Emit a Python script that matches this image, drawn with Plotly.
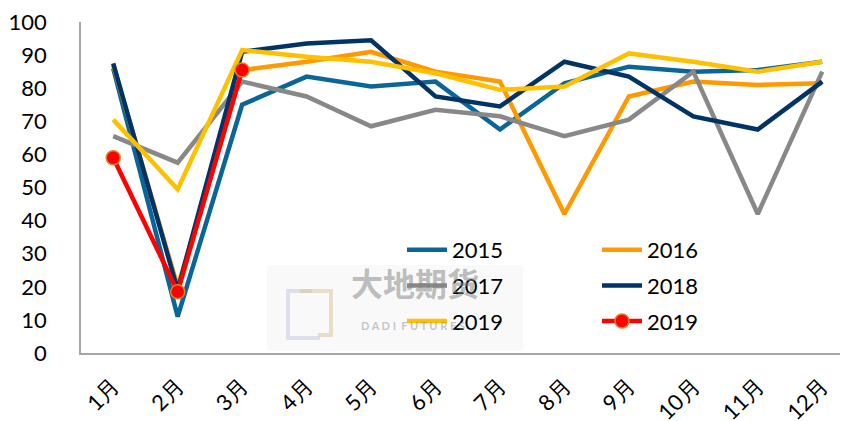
import plotly.graph_objects as go

months = ["1月", "2月", "3月", "4月", "5月", "6月", "7月", "8月", "9月", "10月", "11月", "12月"]

y2015 = [86, 11, 75, 83.5, 80.5, 82, 67.5, 81.5, 86.5, 85, 85.5, 88]
y2016 = [87, 20, 85.5, 88, 91, 85, 82, 42, 77.5, 82, 81, 81.5]
y2017 = [65.5, 57.5, 82, 77.5, 68.5, 73.5, 71.5, 65.5, 70.5, 85, 42, 85]
y2018 = [87.5, 19, 91, 93.5, 94.5, 77.5, 74.5, 88, 83.5, 71.5, 67.5, 82]
y2019 = [70.5, 49.5, 91.5, 89.5, 88, 84.5, 79.5, 80.5, 90.5, 88, 85, 88]
y2019_marked = [59, 18.5, 85.5, None, None, None, None, None, None, None, None, None]

series = [
    ("2015", y2015, "#0A6699", "legend"),
    ("2016", y2016, "#FF9900", "legend2"),
    ("2017", y2017, "#888888", "legend"),
    ("2018", y2018, "#003366", "legend2"),
    ("2019", y2019, "#FFC000", "legend"),
]

FONT = "Lato, 'Open Sans', sans-serif"

# the page body has an 8px margin, so plot positions are given in page pixels
def px(x):
    return (x - 81) / 767


def py(y):
    return (353 - y) / 331


fig = go.Figure()

for i, (name, vals, color, lg) in enumerate(series):
    fig.add_trace(go.Scatter(
        x=months, y=vals, name=name, mode="lines",
        line=dict(color=color, width=4.5),
        legend=lg, legendgroup=f"g{i}",
    ))

fig.add_trace(go.Scatter(
    x=months, y=y2019_marked, name="2019", mode="lines+markers",
    line=dict(color="#FF0000", width=4.5),
    marker=dict(size=14, color="#FF0000", line=dict(color="#D9822B", width=1.5)),
    legend="legend2", legendgroup="g5",
))

# faint watermark (logo box + company name)
fig.add_shape(type="rect", xref="paper", yref="paper",
              x0=px(267), x1=px(523), y0=py(351), y1=py(265),
              fillcolor="rgba(238,238,238,0.35)", line=dict(width=0), layer="below")
fig.add_shape(type="path", xref="paper", yref="paper",
              path=f"M {px(312)},{py(291)} L {px(288)},{py(291)} L {px(288)},{py(338)} L {px(320)},{py(338)}",
              line=dict(width=4, color="rgba(190,200,220,0.5)"), layer="below")
fig.add_shape(type="path", xref="paper", yref="paper",
              path=f"M {px(300)},{py(291)} L {px(331)},{py(291)} L {px(331)},{py(335)} L {px(318)},{py(335)}",
              line=dict(width=4, color="rgba(215,195,150,0.5)"), layer="below")
fig.add_annotation(text="<b>大地期货</b>", xref="paper", yref="paper",
                   x=px(415), y=py(307), showarrow=False,
                   font=dict(family="Noto Sans CJK SC", size=32, color="rgba(130,130,130,0.5)"))
fig.add_annotation(text="<b>D A D I  F U T U R E S</b>", xref="paper", yref="paper",
                   x=px(413), y=py(334), showarrow=False,
                   font=dict(family=FONT, size=11, color="rgba(130,130,130,0.45)"))

legend_common = dict(
    orientation="v", yanchor="top", xanchor="left",
    bgcolor="rgba(0,0,0,0)", font=dict(family=FONT, size=22, color="#000000"),
    tracegroupgap=4, itemwidth=40,
)

fig.update_layout(
    width=840, height=413,
    margin=dict(l=73, r=0, t=14, b=68),
    paper_bgcolor="white", plot_bgcolor="white",
    font=dict(family=FONT, size=22, color="#000000"),
    showlegend=True,
    legend=dict(x=px(402), y=py(229), **legend_common),
    legend2=dict(x=px(597), y=py(229), **legend_common),
    xaxis=dict(
        type="category", range=[-0.5, 11.4], automargin=False,
        showgrid=False, showline=True, linecolor="#A6A6A6", linewidth=1.5,
        ticks="", tickangle=-45, ticklabelstandoff=10, ticklabeloverflow="allow",
        tickfont=dict(family=FONT, size=22),
    ),
    yaxis=dict(
        range=[0, 100], dtick=10, showgrid=False, zeroline=False, automargin=False,
        showline=True, linecolor="#A6A6A6", linewidth=1.5,
        ticks="", ticklabelstandoff=28, ticklabeloverflow="allow",
        tickfont=dict(family=FONT, size=22),
    ),
)

fig.write_html("out.html")
